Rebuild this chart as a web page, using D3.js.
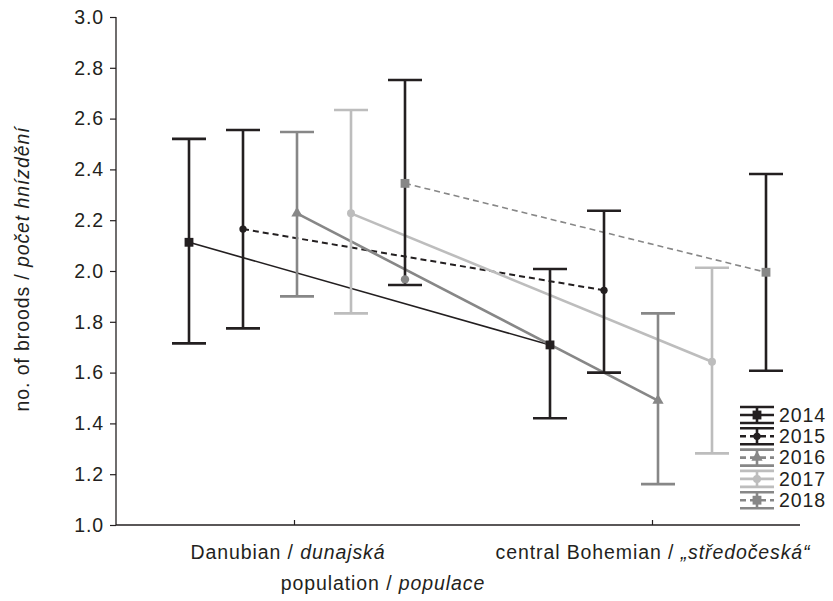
<!DOCTYPE html>
<html>
<head>
<meta charset="utf-8">
<script src="https://cdn.jsdelivr.net/npm/d3@7"></script>
<style>
  body { margin: 0; background: #fff; }
  svg { font-family: "Liberation Sans", Arial, sans-serif; }
</style>
</head>
<body>
<div id="chart"></div>
<script>
// data
const groups = ["Danubian", "central Bohemian"]
const groupLabels = [["Danubian / ", "dunajská"], ["central Bohemian / ", "„středočeská“"]]
const years = ["2014", "2015", "2016", "2017", "2018"]

const meanDanubian  = [2.113, 2.165, 2.227, 2.227, 2.345]
const upperDanubian = [2.520, 2.555, 2.547, 2.634, 2.752]
const lowerDanubian = [1.715, 1.774, 1.900, 1.833, 1.945]

const meanBohemian  = [1.709, 1.924, 1.490, 1.643, 1.995]
const upperBohemian = [2.008, 2.237, 1.833, 2.013, 2.382]
const lowerBohemian = [1.420, 1.600, 1.161, 1.282, 1.607]

// stray grey dot sitting on the lower cap of Danubian 2018
const strayDot = { group: "Danubian", year: "2018", value: 1.967 }

const yTicks = [1.0, 1.2, 1.4, 1.6, 1.8, 2.0, 2.2, 2.4, 2.6, 2.8, 3.0]

const black = "#231f20", grey = "#878787", light = "#bdbdbd"
const styles = {
  "2014": { line: black, dash: null, lw: 1.6, bar: black, marker: "square", mcol: black, legDash: null, legBar: black },
  "2015": { line: black, dash: "6,4", lw: 2, bar: black, marker: "circle", mcol: black, legDash: "6,4", legBar: black },
  "2016": { line: grey, dash: null, lw: 2.6, bar: grey, marker: "triangle", mcol: grey, legDash: "6,4", legBar: grey },
  "2017": { line: light, dash: null, lw: 2.6, bar: light, marker: "circle2", mcol: light, legDash: null, legBar: light },
  "2018": { line: grey, dash: "6,4", lw: 1.6, bar: black, marker: "square", mcol: grey, legDash: "6,4", legBar: grey }
}

const series = years.map((yr, i) => ({
  year: yr,
  points: [
    { group: groups[0], mean: meanDanubian[i], hi: upperDanubian[i], lo: lowerDanubian[i] },
    { group: groups[1], mean: meanBohemian[i], hi: upperBohemian[i], lo: lowerBohemian[i] }
  ]
}))

const width = 833, height = 601
const fs = 19.5, ls = "0.9px"
const svg = d3.select("#chart").append("svg")
  .attr("width", width).attr("height", height)

const axisLeftX = 116, axisRightX = 800
const y = d3.scaleLinear().domain([1, 3]).range([525, 17])
const x = d3.scalePoint().domain(groups).range([294, 652])
const dodge = d3.scalePoint().domain(years).range([-105, 111])

const px = (g, yr) => x(g) + dodge(yr) + (g === groups[1] ? 3 : 0)

const symbolFor = m => m === "triangle" ? d3.symbolTriangle : (m === "square" ? d3.symbolSquare : d3.symbolCircle)
const sizeFor = m => m === "square" ? 78 : (m === "triangle" ? 55 : (m === "circle2" ? 50 : 42))

// connecting lines
const line = d3.line().x(d => d.x).y(d => y(d.mean))
series.forEach(s => {
  const st = styles[s.year]
  svg.append("path")
    .datum(s.points.map(p => ({ ...p, x: px(p.group, s.year) })))
    .attr("fill", "none")
    .attr("stroke", st.line)
    .attr("stroke-width", st.lw)
    .attr("stroke-dasharray", st.dash)
    .attr("d", line)
})

// error bars
const capW = 34
series.forEach(s => {
  const st = styles[s.year]
  const g = svg.append("g").attr("stroke", st.bar).attr("stroke-width", 2.6)
  s.points.forEach(p => {
    const cx = px(p.group, s.year)
    g.append("line").attr("x1", cx).attr("x2", cx).attr("y1", y(p.hi)).attr("y2", y(p.lo))
    g.append("line").attr("x1", cx - capW / 2).attr("x2", cx + capW / 2).attr("y1", y(p.hi)).attr("y2", y(p.hi))
    g.append("line").attr("x1", cx - capW / 2).attr("x2", cx + capW / 2).attr("y1", y(p.lo)).attr("y2", y(p.lo))
  })
})

// markers
series.forEach(s => {
  const st = styles[s.year]
  s.points.forEach(p => {
    svg.append("path")
      .attr("d", d3.symbol(symbolFor(st.marker), sizeFor(st.marker))())
      .attr("transform", `translate(${px(p.group, s.year)},${y(p.mean)})`)
      .attr("fill", st.mcol)
  })
})
svg.append("circle")
  .attr("cx", px(strayDot.group, strayDot.year))
  .attr("cy", y(strayDot.value))
  .attr("r", 4.2)
  .attr("fill", grey)

// axes
const yAxis = svg.append("g")
  .attr("transform", `translate(${axisLeftX},0)`)
  .call(d3.axisLeft(y).tickValues(yTicks).tickFormat(d3.format(".1f")).tickSize(6).tickPadding(6))
yAxis.select(".domain").remove()
yAxis.selectAll("line").attr("stroke", black).attr("stroke-width", 1.2)
yAxis.selectAll("text").attr("font-size", fs).attr("letter-spacing", ls).attr("fill", black)
  .attr("font-family", "Liberation Sans, Arial, sans-serif")

const xAxis = svg.append("g")
  .attr("transform", `translate(0,525)`)
  .call(d3.axisBottom(x).tickSize(-5).tickSizeOuter(0).tickFormat(""))
xAxis.select(".domain").remove()
xAxis.selectAll("line").attr("stroke", black).attr("stroke-width", 1.2)

svg.append("line")
  .attr("x1", axisLeftX).attr("x2", axisLeftX).attr("y1", y(3)).attr("y2", 525)
  .attr("stroke", black).attr("stroke-width", 1.3)
svg.append("line")
  .attr("x1", axisLeftX).attr("x2", axisRightX).attr("y1", 525).attr("y2", 525)
  .attr("stroke", black).attr("stroke-width", 1.3)

const labelShift = [-6, 1]
groups.forEach((g, i) => {
  const t = svg.append("text")
    .attr("x", x(g) + labelShift[i]).attr("y", 559)
    .attr("text-anchor", "middle")
    .attr("font-size", fs).attr("letter-spacing", ls).attr("fill", black)
  t.append("tspan").text(groupLabels[i][0])
  t.append("tspan").attr("font-style", "italic").text(groupLabels[i][1])
})

// axis titles
const xt = svg.append("text")
  .attr("x", 383).attr("y", 590)
  .attr("text-anchor", "middle").attr("font-size", fs).attr("letter-spacing", ls).attr("fill", black)
xt.append("tspan").text("population / ")
xt.append("tspan").attr("font-style", "italic").text("populace")

const yt = svg.append("text")
  .attr("transform", `translate(29,269) rotate(-90)`)
  .attr("text-anchor", "middle").attr("font-size", fs).attr("letter-spacing", ls).attr("fill", black)
yt.append("tspan").text("no. of broods / ")
yt.append("tspan").attr("font-style", "italic").text("počet hnízdění")

// legend
const legX = 740, legW = 34, legY0 = 415, legStep = 21.3
years.forEach((yr, i) => {
  const st = styles[yr]
  const cy = legY0 + i * legStep
  const g = svg.append("g")
  g.append("line").attr("x1", legX).attr("x2", legX + legW).attr("y1", cy - 8).attr("y2", cy - 8)
    .attr("stroke", st.legBar).attr("stroke-width", 2.6)
  g.append("line").attr("x1", legX).attr("x2", legX + legW).attr("y1", cy + 8).attr("y2", cy + 8)
    .attr("stroke", st.legBar).attr("stroke-width", 2.6)
  g.append("line").attr("x1", legX + legW / 2).attr("x2", legX + legW / 2).attr("y1", cy - 8).attr("y2", cy + 8)
    .attr("stroke", st.legBar).attr("stroke-width", 2.6)
  g.append("line").attr("x1", legX).attr("x2", legX + legW).attr("y1", cy).attr("y2", cy)
    .attr("stroke", st.line).attr("stroke-width", 2.6).attr("stroke-dasharray", st.legDash)
  g.append("path")
    .attr("d", d3.symbol(symbolFor(st.marker), sizeFor(st.marker))())
    .attr("transform", `translate(${legX + legW / 2},${cy})`)
    .attr("fill", st.mcol)
  g.append("text").attr("x", legX + legW + 5).attr("y", cy).attr("dy", "0.35em")
    .attr("font-size", fs).attr("letter-spacing", ls).attr("fill", black).text(yr)
})
</script>
</body>
</html>
